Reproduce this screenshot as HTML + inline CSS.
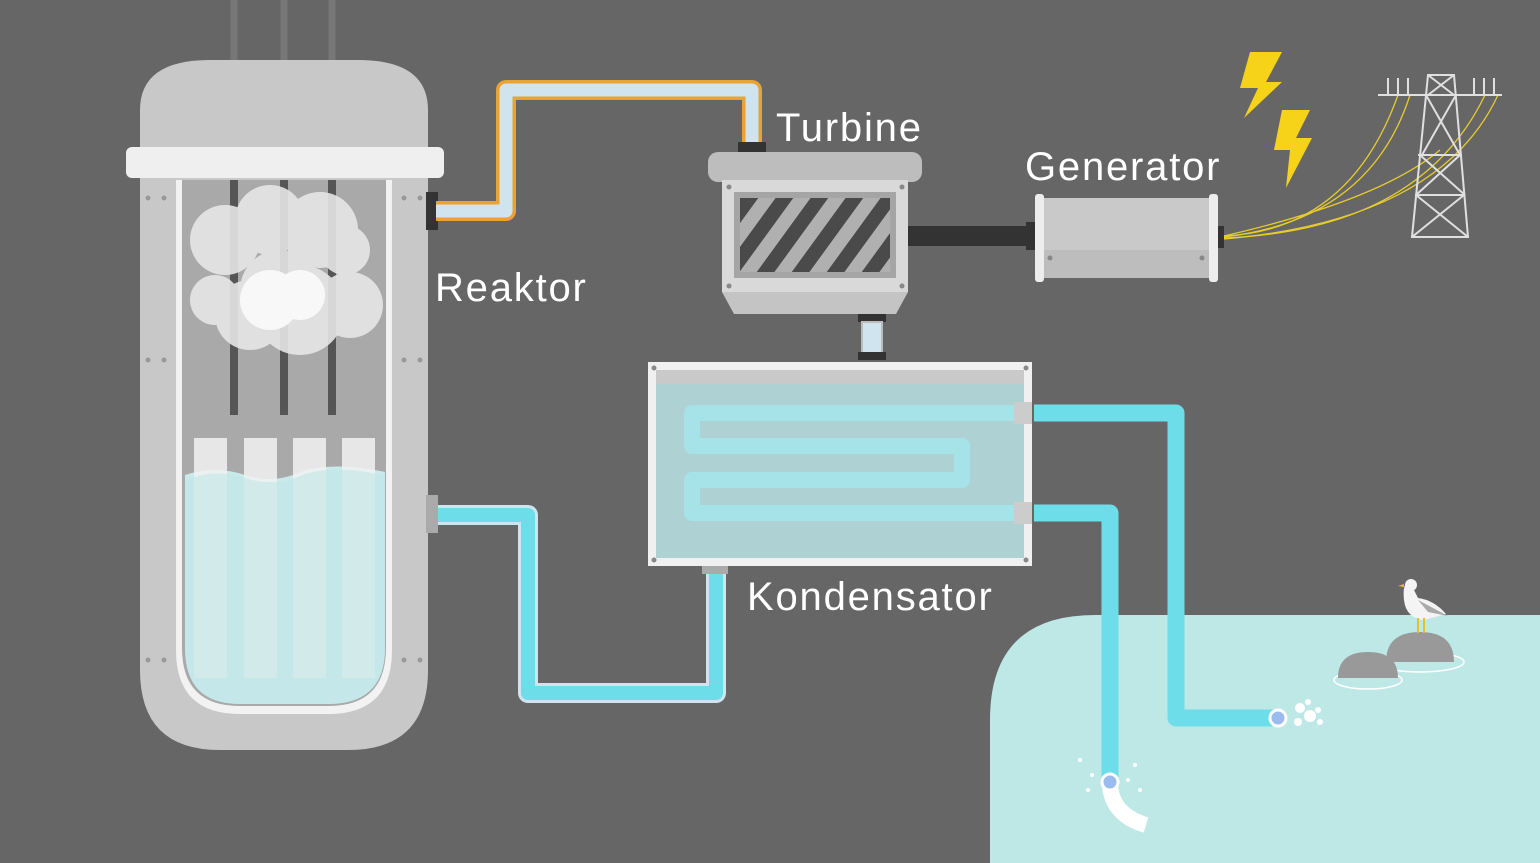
<!DOCTYPE html>
<html><head><meta charset="utf-8"><style>
html,body{margin:0;padding:0;background:#666;width:1540px;height:863px;overflow:hidden}
svg{display:block}
text{font-family:"Liberation Sans",sans-serif;fill:#fff;letter-spacing:1.8px}
</style></head><body>
<svg width="1540" height="863" viewBox="0 0 1540 863">
<rect width="1540" height="863" fill="#666"/>

<path d="M990 863 L990 720 Q990 615 1095 615 L1540 615 L1540 863 Z" fill="#bde8e6"/>

<g stroke="#777" stroke-width="7">
<line x1="234" y1="0" x2="234" y2="70"/><line x1="284" y1="0" x2="284" y2="70"/><line x1="332" y1="0" x2="332" y2="70"/>
</g>

<g>
<path d="M140 150 L140 110 Q140 60 210 60 L358 60 Q428 60 428 110 L428 150 Z" fill="#c8c8c8"/>
<path d="M140 178 L428 178 L428 670 Q428 750 348 750 L220 750 Q140 750 140 670 Z" fill="#c8c8c8"/>
<rect x="126" y="147" width="318" height="31" rx="6" fill="#efefef"/>
<path d="M176 180 L392 180 L392 650 Q392 714 328 714 L240 714 Q176 714 176 650 Z" fill="#f2f2f2"/>
<path d="M182 180 L386 180 L386 648 Q386 706 328 706 L240 706 Q182 706 182 648 Z" fill="#a9a9a9"/>
<g fill="#555">
<rect x="230" y="180" width="8" height="235"/><rect x="280" y="180" width="8" height="235"/><rect x="328" y="180" width="8" height="235"/>
</g>
<g fill="#e6e6e6" opacity="0.9">
<circle cx="225" cy="240" r="35"/><circle cx="270" cy="220" r="35"/><circle cx="320" cy="230" r="38"/><circle cx="345" cy="250" r="25"/>
<circle cx="215" cy="300" r="25"/><circle cx="250" cy="315" r="35"/><circle cx="300" cy="310" r="45"/><circle cx="350" cy="305" r="33"/>
<circle cx="280" cy="290" r="40"/>
</g>
<g fill="#f8f8f8"><circle cx="270" cy="300" r="30"/><circle cx="300" cy="295" r="25"/></g>
<path d="M185 475 Q215 465 245 475 Q275 485 305 470 Q340 462 385 472 L385 648 Q385 704 328 704 L240 704 Q185 704 185 648 Z" fill="#c9eaeb"/>
<g fill="#f2f2f2" opacity="0.85">
<rect x="194" y="438" width="33" height="240"/><rect x="244" y="438" width="33" height="240"/><rect x="293" y="438" width="33" height="240"/><rect x="342" y="438" width="33" height="240"/>
</g>
<path d="M185 480 Q215 468 245 478 Q275 488 305 474 Q340 464 385 476 L385 648 Q385 704 328 704 L240 704 Q185 704 185 648 Z" fill="#bfe6e8" opacity="0.55"/>
<g fill="#999">
<circle cx="148" cy="198" r="2.5"/><circle cx="164" cy="198" r="2.5"/><circle cx="404" cy="198" r="2.5"/><circle cx="420" cy="198" r="2.5"/>
<circle cx="148" cy="360" r="2.5"/><circle cx="164" cy="360" r="2.5"/><circle cx="404" cy="360" r="2.5"/><circle cx="420" cy="360" r="2.5"/>
<circle cx="148" cy="660" r="2.5"/><circle cx="164" cy="660" r="2.5"/><circle cx="404" cy="660" r="2.5"/><circle cx="420" cy="660" r="2.5"/>
</g>
<rect x="426" y="192" width="12" height="38" fill="#333"/>
<rect x="426" y="495" width="12" height="38" fill="#aaa"/>
</g>

<path d="M436 211 L506 211 L506 90 L752 90 L752 146" fill="none" stroke="#e9a233" stroke-width="20" stroke-linejoin="round"/>
<path d="M436 211 L506 211 L506 90 L752 90 L752 146" fill="none" stroke="#cfe4ee" stroke-width="13" stroke-linejoin="round"/>

<path d="M438 515 L528 515 L528 693 L716 693 L716 568" fill="none" stroke="#cfe4ee" stroke-width="20" stroke-linejoin="round"/>
<path d="M438 515 L528 515 L528 693 L716 693 L716 568" fill="none" stroke="#6ddde9" stroke-width="14" stroke-linejoin="round"/>

<path d="M1034 413 L1176 413 L1176 718 L1275 718" fill="none" stroke="#6ddde9" stroke-width="17" stroke-linejoin="round"/>
<path d="M1034 513 L1110 513 L1110 785" fill="none" stroke="#6ddde9" stroke-width="17" stroke-linejoin="round"/>
<path d="M1110 785 Q1112 815 1146 825" fill="none" stroke="#fff" stroke-width="16"/>
<circle cx="1110" cy="782" r="8" fill="#9be" stroke="#fff" stroke-width="3"/>
<circle cx="1278" cy="718" r="8" fill="#9be" stroke="#fff" stroke-width="3"/>
<g fill="#fff"><circle cx="1300" cy="708" r="5"/><circle cx="1310" cy="716" r="6"/><circle cx="1298" cy="722" r="4"/><circle cx="1318" cy="710" r="3"/><circle cx="1320" cy="722" r="3"/><circle cx="1308" cy="702" r="3"/>
<circle cx="1080" cy="760" r="2"/><circle cx="1092" cy="775" r="2"/><circle cx="1135" cy="765" r="2"/><circle cx="1128" cy="780" r="2"/><circle cx="1088" cy="790" r="2"/><circle cx="1140" cy="790" r="2"/></g>

<g>
<rect x="738" y="142" width="28" height="10" fill="#333"/>
<rect x="708" y="152" width="214" height="30" rx="10" fill="#bdbdbd"/>
<rect x="722" y="180" width="186" height="112" fill="#d9d9d9"/>
<path d="M722 292 L908 292 L896 314 L734 314 Z" fill="#c4c4c4"/>
<rect x="734" y="192" width="162" height="86" fill="#a5a5a5"/>
<defs><clipPath id="tc"><rect x="740" y="198" width="150" height="74"/></clipPath></defs>
<g clip-path="url(#tc)">
<rect x="740" y="198" width="150" height="74" fill="#4a4a4a"/>
<g stroke="#b0b0b0" stroke-width="14">
<line x1="700" y1="290" x2="780" y2="180"/><line x1="735" y1="290" x2="815" y2="180"/><line x1="770" y1="290" x2="850" y2="180"/><line x1="805" y1="290" x2="885" y2="180"/><line x1="840" y1="290" x2="920" y2="180"/><line x1="875" y1="290" x2="955" y2="180"/>
</g></g>
<g fill="#888"><circle cx="729" cy="187" r="2.5"/><circle cx="902" cy="187" r="2.5"/><circle cx="729" cy="286" r="2.5"/><circle cx="902" cy="286" r="2.5"/></g>
</g>
<rect x="858" y="314" width="28" height="8" fill="#333"/>
<rect x="862" y="322" width="20" height="32" fill="#cfe4ee" stroke="#bbb" stroke-width="2"/>
<rect x="858" y="352" width="28" height="8" fill="#333"/>

<rect x="908" y="226" width="122" height="20" fill="#333"/>
<g>
<rect x="1026" y="222" width="10" height="28" fill="#333"/>
<rect x="1035" y="198" width="183" height="80" fill="#c9c9c9"/>
<rect x="1035" y="250" width="183" height="28" fill="#bdbdbd"/>
<rect x="1035" y="194" width="9" height="88" rx="3" fill="#ededed"/>
<rect x="1209" y="194" width="9" height="88" rx="3" fill="#ededed"/>
<rect x="1218" y="226" width="6" height="22" fill="#333"/>
<g fill="#888"><circle cx="1050" cy="258" r="2.5"/><circle cx="1202" cy="258" r="2.5"/></g>
</g>

<g fill="#f6d219">
<path d="M1250 52 L1282 52 L1266 82 L1282 82 L1244 118 L1258 88 L1240 88 Z"/>
<path d="M1282 110 L1310 110 L1296 138 L1312 138 L1286 188 L1290 150 L1274 150 Z"/>
</g>

<g fill="none" stroke="#e8cc2a" stroke-width="1.3">
<path d="M1224 236 Q1350 230 1398 95"/><path d="M1224 237 Q1370 220 1410 95"/>
<path d="M1224 238 Q1420 230 1485 95"/><path d="M1224 239 Q1440 220 1498 95"/>
<path d="M1224 236 Q1380 200 1440 150"/>
</g>
<g stroke="#e0e0e0" stroke-width="2" fill="none">
<path d="M1428 75 L1454 75 L1468 237 L1412 237 Z"/>
<path d="M1378 95 L1502 95"/>
<path d="M1418 155 L1462 155 M1415 195 L1465 195"/>
<path d="M1428 75 L1454 95 M1454 75 L1428 95 M1426 95 L1460 155 M1456 95 L1422 155 M1420 155 L1465 195 M1460 155 L1416 195 M1416 195 L1468 237 M1464 195 L1412 237"/>
<path d="M1388 78 L1388 95 M1398 78 L1398 95 M1408 78 L1408 95 M1474 78 L1474 95 M1484 78 L1484 95 M1494 78 L1494 95"/>
</g>

<g>
<rect x="648" y="362" width="384" height="204" fill="#f0f0f0"/>
<rect x="656" y="370" width="368" height="188" fill="#aed2d3"/>
<rect x="656" y="370" width="368" height="14" fill="#c9c9c9"/>
<path d="M1020 413 L692 413 L692 446 L962 446 L962 480 L692 480 L692 513 L1020 513" fill="none" stroke="#a6e3e8" stroke-width="16" stroke-linejoin="round"/>
<rect x="1014" y="402" width="18" height="22" fill="#ccc"/>
<rect x="1014" y="502" width="18" height="22" fill="#ccc"/>
<rect x="702" y="566" width="26" height="8" fill="#aaa"/>
<g fill="#888"><circle cx="654" cy="368" r="2.5"/><circle cx="1026" cy="368" r="2.5"/><circle cx="654" cy="560" r="2.5"/><circle cx="1026" cy="560" r="2.5"/></g>
</g>

<g>
<ellipse cx="1368" cy="680" rx="34" ry="9" fill="none" stroke="#fff" stroke-width="1.5"/>
<ellipse cx="1420" cy="662" rx="44" ry="10" fill="none" stroke="#fff" stroke-width="1.5"/>
<path d="M1338 678 Q1338 652 1368 652 Q1398 652 1398 678 Z" fill="#999"/>
<path d="M1386 662 Q1386 632 1420 632 Q1454 632 1454 662 Z" fill="#999"/>
</g>
<g>
<path d="M1410 582 Q1402 582 1404 600 Q1406 618 1424 620 L1446 614 Q1434 600 1418 598 Z" fill="#f4f4f4"/>
<path d="M1418 600 L1448 616 L1428 612 Z" fill="#aaa"/>
<circle cx="1411" cy="585" r="6" fill="#f4f4f4"/>
<path d="M1404 584 L1398 586 L1404 587 Z" fill="#e8c020"/>
<path d="M1418 618 L1418 633 M1424 618 L1424 633" stroke="#e8c020" stroke-width="2"/>
</g>

<text x="435" y="301" font-size="40">Reaktor</text>
<text x="776" y="141" font-size="40">Turbine</text>
<text x="1025" y="180" font-size="40">Generator</text>
<text x="747" y="610" font-size="40">Kondensator</text>
</svg>
</body></html>
